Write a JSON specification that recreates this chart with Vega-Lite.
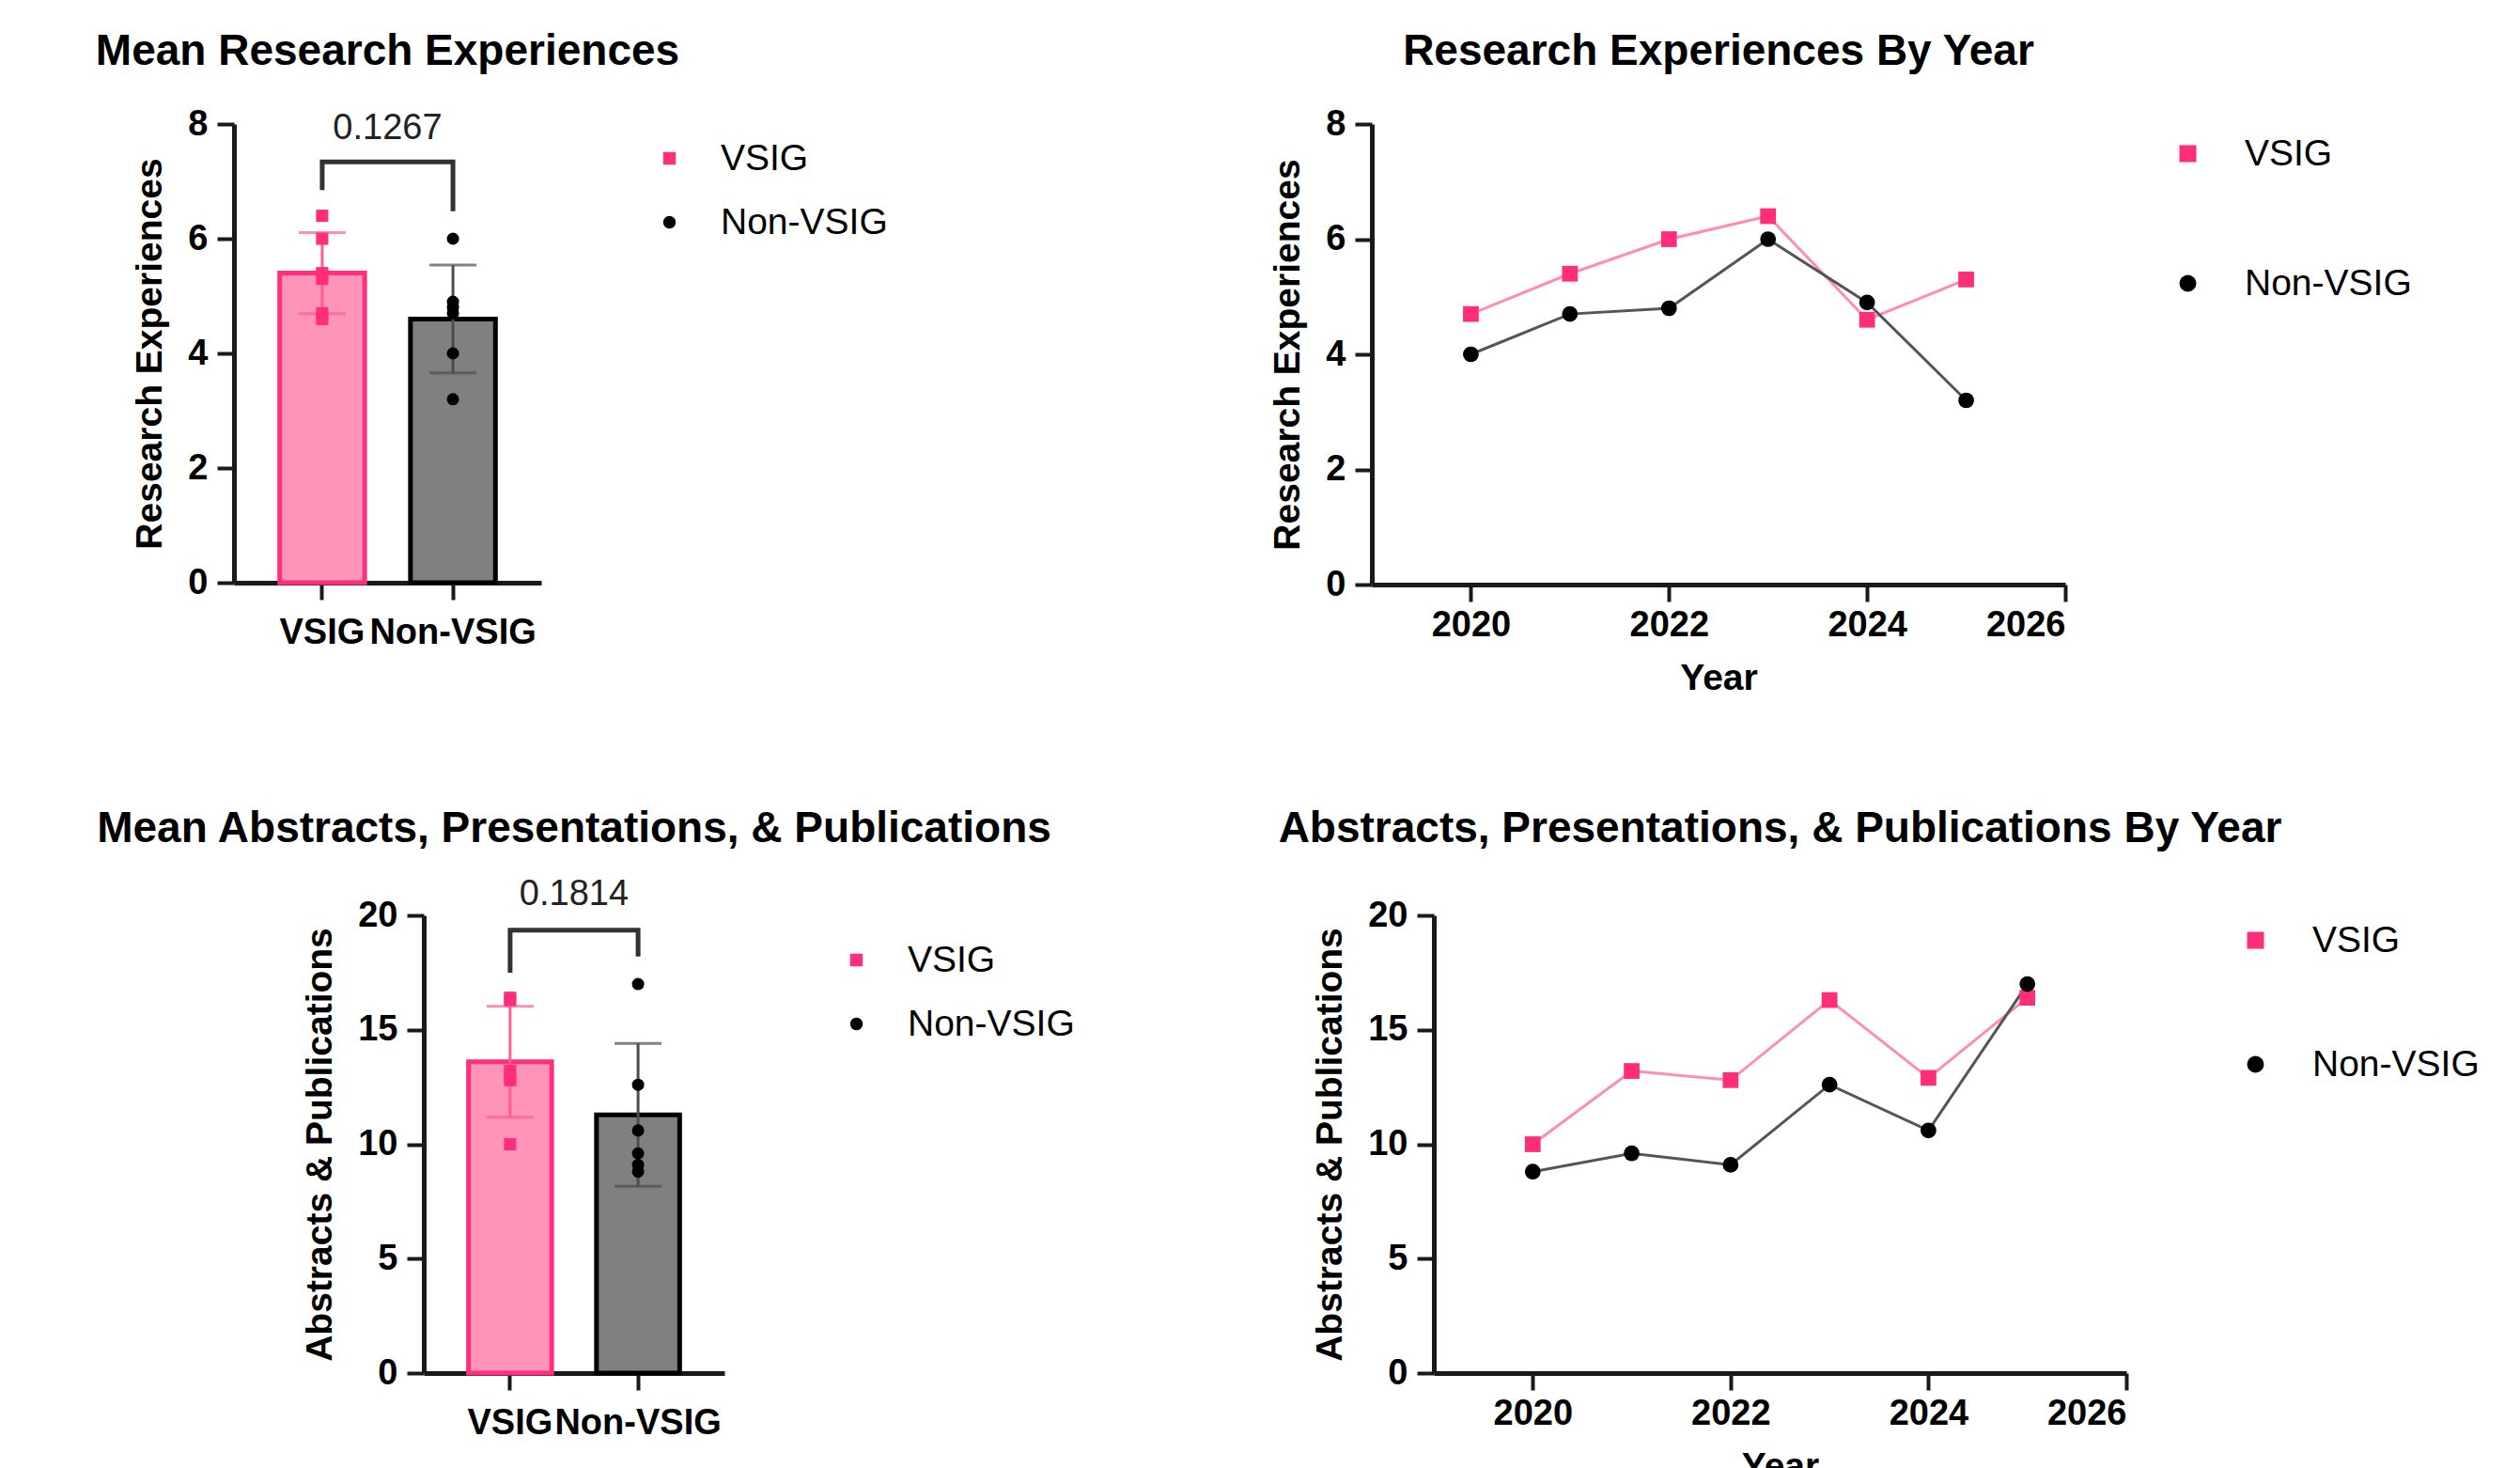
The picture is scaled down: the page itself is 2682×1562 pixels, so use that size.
{
  "$schema": "https://vega.github.io/schema/vega-lite/v6.json",
  "padding": {"left": 101, "top": 32, "right": 10, "bottom": 10},
  "background": "white",
  "config": {
    "font": "Liberation Sans",
    "view": {"stroke": null},
    "axis": {"grid": false, "domainColor": "#1a1a1a", "domainWidth": 5, "tickColor": "#1a1a1a", "tickWidth": 4, "tickSize": 18, "labelFontSize": 38, "labelFontWeight": "bold", "labelColor": "#000000", "labelPadding": 10, "titleFontSize": 39, "titleFontWeight": "bold", "titleColor": "#000000", "titlePadding": 20},
    "title": {"fontSize": 46, "fontWeight": "bold", "color": "#000000", "anchor": "middle", "frame": "group"},
    "legend": {"labelFontSize": 39, "labelColor": "#000000", "labelFontWeight": "normal", "labelFont": "Liberation Sans", "labelLimit": 1000}
  },
  "datasets": {
    "re": [
      {"group": "VSIG", "year": 2020, "value": 4.7},
      {"group": "VSIG", "year": 2021, "value": 5.4},
      {"group": "VSIG", "year": 2022, "value": 6.0},
      {"group": "VSIG", "year": 2023, "value": 6.4},
      {"group": "VSIG", "year": 2024, "value": 4.6},
      {"group": "VSIG", "year": 2025, "value": 5.3},
      {"group": "Non-VSIG", "year": 2020, "value": 4.0},
      {"group": "Non-VSIG", "year": 2021, "value": 4.7},
      {"group": "Non-VSIG", "year": 2022, "value": 4.8},
      {"group": "Non-VSIG", "year": 2023, "value": 6.0},
      {"group": "Non-VSIG", "year": 2024, "value": 4.9},
      {"group": "Non-VSIG", "year": 2025, "value": 3.2}
    ],
    "ap": [
      {"group": "VSIG", "year": 2020, "value": 10.0},
      {"group": "VSIG", "year": 2021, "value": 13.2},
      {"group": "VSIG", "year": 2022, "value": 12.8},
      {"group": "VSIG", "year": 2023, "value": 16.3},
      {"group": "VSIG", "year": 2024, "value": 12.9},
      {"group": "VSIG", "year": 2025, "value": 16.4},
      {"group": "Non-VSIG", "year": 2020, "value": 8.8},
      {"group": "Non-VSIG", "year": 2021, "value": 9.6},
      {"group": "Non-VSIG", "year": 2022, "value": 9.1},
      {"group": "Non-VSIG", "year": 2023, "value": 12.6},
      {"group": "Non-VSIG", "year": 2024, "value": 10.6},
      {"group": "Non-VSIG", "year": 2025, "value": 17.0}
    ]
  },
  "resolve": {"scale": {"color": "independent", "shape": "independent"}},
  "columns": 1,
  "align": "none",
  "spacing": 118,
  "concat": [
    {
      "spacing": 389,
      "resolve": {"scale": {"color": "independent", "shape": "independent"}},
      "hconcat": [
        {
          "title": {"text": "Mean Research Experiences", "offset": 34, "dx": -101},
          "width": 125,
          "height": 488,
          "data": {"name": "re"},
          "encoding": {
            "x": {"field": "group", "type": "nominal", "sort": ["VSIG", "Non-VSIG"], "scale": {"range": [-202, 125], "paddingInner": 0.35, "paddingOuter": 0.35}, "axis": {"title": null, "labelAngle": 0, "labelPadding": 16}}
          },
          "layer": [
            {
              "transform": [{"filter": "datum.group === 'VSIG'"}],
              "mark": {"type": "bar", "fill": "#FF94B9", "stroke": "#FF2F7E", "strokeWidth": 5},
              "encoding": {
                "y": {"aggregate": "mean", "field": "value", "type": "quantitative", "title": "Research Experiences", "scale": {"domain": [0, 8], "nice": false}, "axis": {"values": [0, 2, 4, 6, 8], "format": "d", "offset": 202}}
              }
            },
            {
              "transform": [{"filter": "datum.group === 'Non-VSIG'"}],
              "mark": {"type": "bar", "fill": "#808080", "stroke": "#000000", "strokeWidth": 5},
              "encoding": {
                "y": {"aggregate": "mean", "field": "value", "type": "quantitative", "title": "Research Experiences"}
              }
            },
            {
              "transform": [{"filter": "datum.group === 'VSIG'"}],
              "mark": {"type": "errorbar", "extent": "stdev", "ticks": true, "size": 50, "thickness": 3, "color": "#FF5C94"},
              "encoding": {"y": {"field": "value", "type": "quantitative", "title": "Research Experiences"}}
            },
            {
              "transform": [{"filter": "datum.group === 'Non-VSIG'"}],
              "mark": {"type": "errorbar", "extent": "stdev", "ticks": true, "size": 50, "thickness": 3, "color": "#4d4d4d"},
              "encoding": {"y": {"field": "value", "type": "quantitative", "title": "Research Experiences"}}
            },
            {
              "mark": {"type": "point", "filled": true, "size": 170, "opacity": 1},
              "encoding": {
                "y": {"field": "value", "type": "quantitative", "title": "Research Experiences"},
                "color": {"field": "group", "type": "nominal", "scale": {"domain": ["VSIG", "Non-VSIG"], "range": ["#FF2D7A", "#000000"]}, "legend": {"title": null, "orient": "right", "offset": 100, "padding": 17, "symbolSize": 180, "labelOffset": 35, "rowPadding": 28}},
                "shape": {"field": "group", "type": "nominal", "scale": {"domain": ["VSIG", "Non-VSIG"], "range": ["square", "circle"]}, "legend": {"title": null, "orient": "right", "offset": 100, "padding": 17, "symbolSize": 180, "labelOffset": 35, "rowPadding": 28}}
              }
            },
            {
              "data": {"values": [
                {"group": "VSIG", "value": 6.85, "o": 1},
                {"group": "VSIG", "value": 7.34, "o": 2},
                {"group": "Non-VSIG", "value": 7.34, "o": 3},
                {"group": "Non-VSIG", "value": 6.48, "o": 4}
              ]},
              "mark": {"type": "line", "color": "#333333", "strokeWidth": 5},
              "encoding": {
                "y": {"field": "value", "type": "quantitative", "title": "Research Experiences"},
                "order": {"field": "o", "type": "quantitative"}
              }
            },
            {
              "data": {"values": [{"group": "VSIG", "value": 7.92, "label": "0.1267"}]},
              "mark": {"type": "text", "fontSize": 38, "fontWeight": "normal", "baseline": "middle", "align": "center", "color": "#222222"},
              "encoding": {
                "x": {"field": "group", "type": "nominal", "sort": ["VSIG", "Non-VSIG"], "bandPosition": 1.269},
                "y": {"field": "value", "type": "quantitative", "title": "Research Experiences"},
                "text": {"field": "label"}
              }
            }
          ]
        },
        {
          "title": {"text": "Research Experiences By Year", "offset": 34},
          "width": 738,
          "height": 490,
          "data": {"name": "re"},
          "encoding": {
            "x": {"field": "year", "type": "quantitative", "title": "Year", "scale": {"domain": [2019, 2026], "nice": false, "zero": false}, "axis": {"values": [2020, 2022, 2024, 2026], "format": "d", "labelPadding": 6, "titlePadding": 18}},
            "y": {"field": "value", "type": "quantitative", "title": "Research Experiences", "scale": {"domain": [0, 8], "nice": false}, "axis": {"values": [0, 2, 4, 6, 8], "format": "d"}}
          },
          "layer": [
            {
              "transform": [{"filter": "datum.group === 'VSIG'"}],
              "mark": {"type": "line", "strokeWidth": 3, "color": "#FF8DB3"}
            },
            {
              "transform": [{"filter": "datum.group === 'Non-VSIG'"}],
              "mark": {"type": "line", "strokeWidth": 3, "color": "#555555"}
            },
            {
              "mark": {"type": "point", "filled": true, "size": 280, "opacity": 1},
              "encoding": {
                "color": {"field": "group", "type": "nominal", "scale": {"domain": ["VSIG", "Non-VSIG"], "range": ["#FF2D7A", "#000000"]}, "legend": {"title": null, "orient": "right", "offset": 99, "padding": 12, "symbolSize": 324, "labelOffset": 41, "rowPadding": 98}},
                "shape": {"field": "group", "type": "nominal", "scale": {"domain": ["VSIG", "Non-VSIG"], "range": ["square", "circle"]}, "legend": {"title": null, "orient": "right", "offset": 99, "padding": 12, "symbolSize": 324, "labelOffset": 41, "rowPadding": 98}}
              }
            }
          ]
        }
      ]
    },
    {
      "spacing": 188,
      "resolve": {"scale": {"color": "independent", "shape": "independent"}},
      "hconcat": [
        {
          "title": {"text": "Mean Abstracts, Presentations, & Publications", "offset": 27},
          "width": 320,
          "height": 487,
          "data": {"name": "ap"},
          "encoding": {
            "x": {"field": "group", "type": "nominal", "sort": ["VSIG", "Non-VSIG"], "scale": {"paddingInner": 0.35, "paddingOuter": 0.35}, "axis": {"title": null, "labelAngle": 0, "labelPadding": 16}}
          },
          "layer": [
            {
              "transform": [{"filter": "datum.group === 'VSIG'"}],
              "mark": {"type": "bar", "fill": "#FF94B9", "stroke": "#FF2F7E", "strokeWidth": 5},
              "encoding": {
                "y": {"aggregate": "mean", "field": "value", "type": "quantitative", "title": "Abstracts & Publications", "scale": {"domain": [0, 20], "nice": false}, "axis": {"values": [0, 5, 10, 15, 20], "format": "d"}}
              }
            },
            {
              "transform": [{"filter": "datum.group === 'Non-VSIG'"}],
              "mark": {"type": "bar", "fill": "#808080", "stroke": "#000000", "strokeWidth": 5},
              "encoding": {
                "y": {"aggregate": "mean", "field": "value", "type": "quantitative", "title": "Abstracts & Publications"}
              }
            },
            {
              "transform": [{"filter": "datum.group === 'VSIG'"}],
              "mark": {"type": "errorbar", "extent": "stdev", "ticks": true, "size": 50, "thickness": 3, "color": "#FF5C94"},
              "encoding": {"y": {"field": "value", "type": "quantitative", "title": "Abstracts & Publications"}}
            },
            {
              "transform": [{"filter": "datum.group === 'Non-VSIG'"}],
              "mark": {"type": "errorbar", "extent": "stdev", "ticks": true, "size": 50, "thickness": 3, "color": "#4d4d4d"},
              "encoding": {"y": {"field": "value", "type": "quantitative", "title": "Abstracts & Publications"}}
            },
            {
              "mark": {"type": "point", "filled": true, "size": 170, "opacity": 1},
              "encoding": {
                "y": {"field": "value", "type": "quantitative", "title": "Abstracts & Publications"},
                "color": {"field": "group", "type": "nominal", "scale": {"domain": ["VSIG", "Non-VSIG"], "range": ["#FF2D7A", "#000000"]}, "legend": {"title": null, "orient": "right", "offset": 93, "padding": 28, "symbolSize": 180, "labelOffset": 35, "rowPadding": 28}},
                "shape": {"field": "group", "type": "nominal", "scale": {"domain": ["VSIG", "Non-VSIG"], "range": ["square", "circle"]}, "legend": {"title": null, "orient": "right", "offset": 93, "padding": 28, "symbolSize": 180, "labelOffset": 35, "rowPadding": 28}}
              }
            },
            {
              "data": {"values": [
                {"group": "VSIG", "value": 17.5, "o": 1},
                {"group": "VSIG", "value": 19.35, "o": 2},
                {"group": "Non-VSIG", "value": 19.35, "o": 3},
                {"group": "Non-VSIG", "value": 18.2, "o": 4}
              ]},
              "mark": {"type": "line", "color": "#333333", "strokeWidth": 5},
              "encoding": {
                "y": {"field": "value", "type": "quantitative", "title": "Abstracts & Publications"},
                "order": {"field": "o", "type": "quantitative"}
              }
            },
            {
              "data": {"values": [{"group": "VSIG", "value": 20.9, "label": "0.1814"}]},
              "mark": {"type": "text", "fontSize": 38, "fontWeight": "normal", "baseline": "middle", "align": "center", "color": "#222222"},
              "encoding": {
                "x": {"field": "group", "type": "nominal", "sort": ["VSIG", "Non-VSIG"], "bandPosition": 1.269},
                "y": {"field": "value", "type": "quantitative", "title": "Abstracts & Publications"},
                "text": {"field": "label"}
              }
            }
          ]
        },
        {
          "title": {"text": "Abstracts, Presentations, & Publications By Year", "offset": 49},
          "width": 737,
          "height": 487,
          "data": {"name": "ap"},
          "encoding": {
            "x": {"field": "year", "type": "quantitative", "title": "Year", "scale": {"domain": [2019, 2026], "nice": false, "zero": false}, "axis": {"values": [2020, 2022, 2024, 2026], "format": "d", "labelPadding": 6, "titlePadding": 18}},
            "y": {"field": "value", "type": "quantitative", "title": "Abstracts & Publications", "scale": {"domain": [0, 20], "nice": false}, "axis": {"values": [0, 5, 10, 15, 20], "format": "d"}}
          },
          "layer": [
            {
              "transform": [{"filter": "datum.group === 'VSIG'"}],
              "mark": {"type": "line", "strokeWidth": 3, "color": "#FF8DB3"}
            },
            {
              "transform": [{"filter": "datum.group === 'Non-VSIG'"}],
              "mark": {"type": "line", "strokeWidth": 3, "color": "#555555"}
            },
            {
              "mark": {"type": "point", "filled": true, "size": 280, "opacity": 1},
              "encoding": {
                "color": {"field": "group", "type": "nominal", "scale": {"domain": ["VSIG", "Non-VSIG"], "range": ["#FF2D7A", "#000000"]}, "legend": {"title": null, "orient": "right", "offset": 111, "padding": 7, "symbolSize": 324, "labelOffset": 41, "rowPadding": 92}},
                "shape": {"field": "group", "type": "nominal", "scale": {"domain": ["VSIG", "Non-VSIG"], "range": ["square", "circle"]}, "legend": {"title": null, "orient": "right", "offset": 111, "padding": 7, "symbolSize": 324, "labelOffset": 41, "rowPadding": 92}}
              }
            }
          ]
        }
      ]
    }
  ]
}
